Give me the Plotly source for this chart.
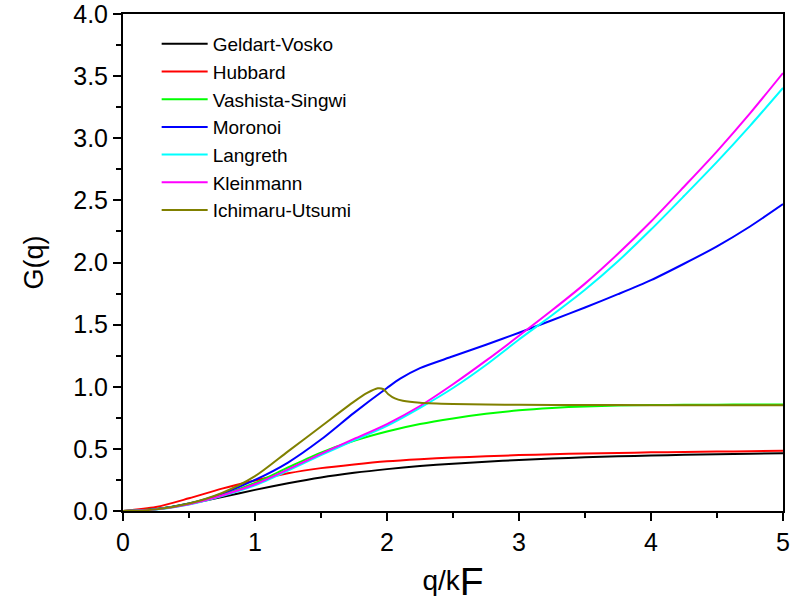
import plotly.graph_objects as go

# q/kF grid shared by most curves
q = [0, 0.25, 0.5, 0.75, 1.0, 1.25, 1.5, 1.75, 2.0, 2.25, 2.5, 2.75,
     3.0, 3.25, 3.5, 3.75, 4.0, 4.25, 4.5, 4.75, 5.0]

geldart_vosko = [0, 0.016, 0.057, 0.112, 0.170, 0.223, 0.270, 0.307, 0.337, 0.362, 0.381,
                 0.397, 0.411, 0.422, 0.432, 0.440, 0.447, 0.452, 0.457, 0.461, 0.465]
hubbard = [0, 0.032, 0.102, 0.180, 0.245, 0.303, 0.345, 0.375, 0.400, 0.417, 0.430,
           0.440, 0.450, 0.457, 0.463, 0.467, 0.472, 0.475, 0.478, 0.481, 0.484]
vashista_singwi = [0, 0.016, 0.060, 0.130, 0.225, 0.350, 0.470, 0.565, 0.640, 0.700, 0.745,
                   0.782, 0.810, 0.829, 0.842, 0.849, 0.853, 0.855, 0.856, 0.857, 0.858]
langreth = [0, 0.012, 0.052, 0.120, 0.207, 0.325, 0.450, 0.568, 0.685, 0.830, 0.990,
            1.175, 1.380, 1.575, 1.780, 2.010, 2.265, 2.535, 2.810, 3.100, 3.405]
kleinmann = [0, 0.013, 0.055, 0.125, 0.215, 0.335, 0.460, 0.580, 0.700, 0.845, 1.020,
             1.210, 1.410, 1.615, 1.830, 2.070, 2.330, 2.610, 2.895, 3.200, 3.525]

q_moronoi = [0, 0.25, 0.5, 0.75, 1.0, 1.25, 1.5, 1.75, 2.0, 2.1, 2.25, 2.5, 2.75,
             3.0, 3.25, 3.5, 3.75, 4.0, 4.25, 4.5, 4.75, 5.0]
moronoi = [0, 0.015, 0.060, 0.140, 0.250, 0.390, 0.575, 0.790, 0.990, 1.065, 1.150, 1.245, 1.338,
           1.435, 1.535, 1.638, 1.745, 1.858, 1.990, 2.130, 2.290, 2.470]

q_iu = [0, 0.25, 0.5, 0.75, 1.0, 1.25, 1.5, 1.75, 1.85, 1.93, 1.97, 2.01, 2.06, 2.12,
        2.25, 2.5, 2.75, 3.0, 3.5, 4.0, 4.5, 5.0]
ichimaru_utsumi = [0, 0.013, 0.060, 0.145, 0.280, 0.480, 0.680, 0.880, 0.950, 0.988, 0.982, 0.940,
                   0.906, 0.888, 0.872, 0.862, 0.858, 0.855, 0.853, 0.852, 0.852, 0.852]

names = ["Geldart-Vosko", "Hubbard", "Vashista-Singwi", "Moronoi",
         "Langreth", "Kleinmann", "Ichimaru-Utsumi"]
colors = ["#000000", "#FF0000", "#00FF00", "#0000FF", "#00FFFF", "#FF00FF", "#808000"]
xs = [q, q, q, q_moronoi, q, q, q_iu]
ys = [geldart_vosko, hubbard, vashista_singwi, moronoi, langreth, kleinmann, ichimaru_utsumi]

fig = go.Figure()
for n, c, x, y in zip(names, colors, xs, ys):
    fig.add_trace(go.Scatter(x=x, y=y, name=n, mode="lines",
                             line=dict(color=c, width=2, shape="spline", smoothing=0.8)))

FONT = "Liberation Sans, Arial, sans-serif"
axis_common = dict(showline=True, linecolor="black", linewidth=2, mirror=True,
                   ticks="outside", tickwidth=2, ticklen=8, tickcolor="black",
                   showgrid=False, zeroline=False, ticklabeloverflow="allow",
                   tickfont=dict(family=FONT, size=25, color="black"))

fig.update_layout(
    width=792, height=608,
    margin=dict(l=123, r=9, t=14, b=97, autoexpand=False),
    paper_bgcolor="white", plot_bgcolor="white",
    font=dict(family=FONT, color="black"),
    showlegend=True,
    legend=dict(x=0.051, y=0.978, xanchor="left", yanchor="top",
                bgcolor="rgba(0,0,0,0)", borderwidth=0,
                font=dict(family=FONT, size=19, color="black"),
                itemwidth=46, tracegroupgap=0),
    xaxis=dict(range=[0, 5.0001], dtick=1, tick0=0,
               minor=dict(dtick=0.5, ticklen=5, tickwidth=2, ticks="outside", tickcolor="black"),
               title=dict(text="q/k<sub><span style='font-size:39px'>F</span></sub>",
                          font=dict(family=FONT, size=28, color="black"),
                          standoff=15),
               **axis_common),
    yaxis=dict(range=[0, 4.0001], dtick=0.5, tick0=0, tickformat=".1f",
               minor=dict(dtick=0.25, ticklen=5, tickwidth=2, ticks="outside", tickcolor="black"),
               title=dict(text="G(q)", font=dict(family=FONT, size=27, color="black"),
                          standoff=22),
               **axis_common),
)

fig.write_html("out.html")
